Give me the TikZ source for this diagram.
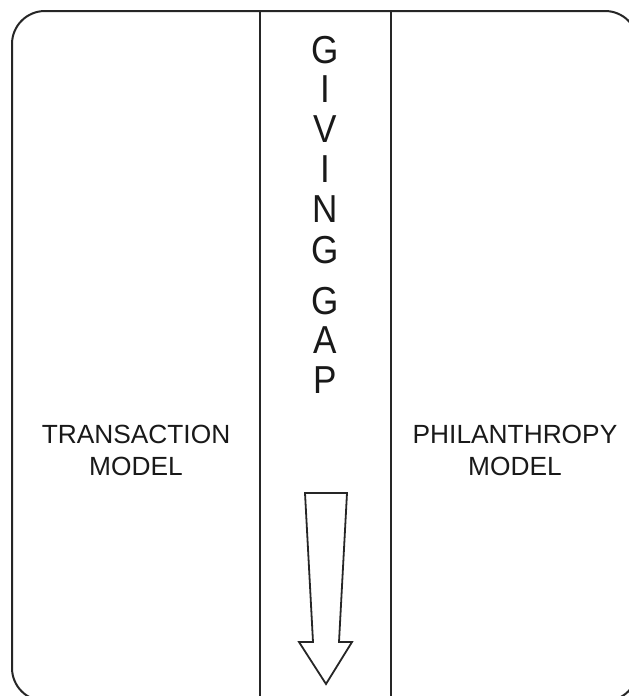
\documentclass[tikz,border=0pt]{standalone}
\usepackage{fontspec}
\setmainfont{Liberation Sans}
\newfontfamily\narrowsans[FakeStretch=0.9]{Liberation Sans}
\begin{document}
\begin{tikzpicture}[x=1pt,y=-1pt,
  frame/.style={draw=black!85,line width=2pt},
  divider/.style={draw=black!85,line width=1.8pt},
  label/.style={inner sep=0pt,anchor=base,font=\fontsize{26.3}{31.6}\selectfont,text=black!90},
  letter/.style={inner sep=0pt,anchor=base,font=\narrowsans\fontsize{39}{40}\selectfont,text=black!90},
  arrowshape/.style={draw=black!85,line width=1.8pt,line join=miter,fill=white}]
\useasboundingbox (0,0) rectangle (629,696);
\fill[white] (0,0) rectangle (629,696);
\draw[frame,rounded corners=33pt] (12,11) rectangle (638,701);
\draw[divider] (260,11) -- (260,700);
\draw[divider] (391,11) -- (391,700);
% vertical letters
\node[letter] (l1) at (325.5,63) {G};
\node[letter] (l2) at (325.5,102) {I};
\node[letter] (l3) at (325.5,142) {V};
\node[letter] (l4) at (325.5,182) {I};
\node[letter] (l5) at (325.5,222) {N};
\node[letter] (l6) at (325.5,263) {G};
\node[letter] (l7) at (325.5,314) {G};
\node[letter] (l8) at (325.5,353) {A};
\node[letter] (l9) at (325.5,393) {P};
% labels
\node[label] (t1) at (136,443) {TRANSACTION};
\node[label] (t2) at (136,475) {MODEL};
\node[label] (p1) at (515,443) {PHILANTHROPY};
\node[label] (p2) at (515,475) {MODEL};
% hollow arrow
\draw[arrowshape] (305,493) -- (347,493) -- (339,642) -- (352,642) -- (326,684) -- (299,642) -- (313,642) -- cycle;
\end{tikzpicture}
\end{document}
